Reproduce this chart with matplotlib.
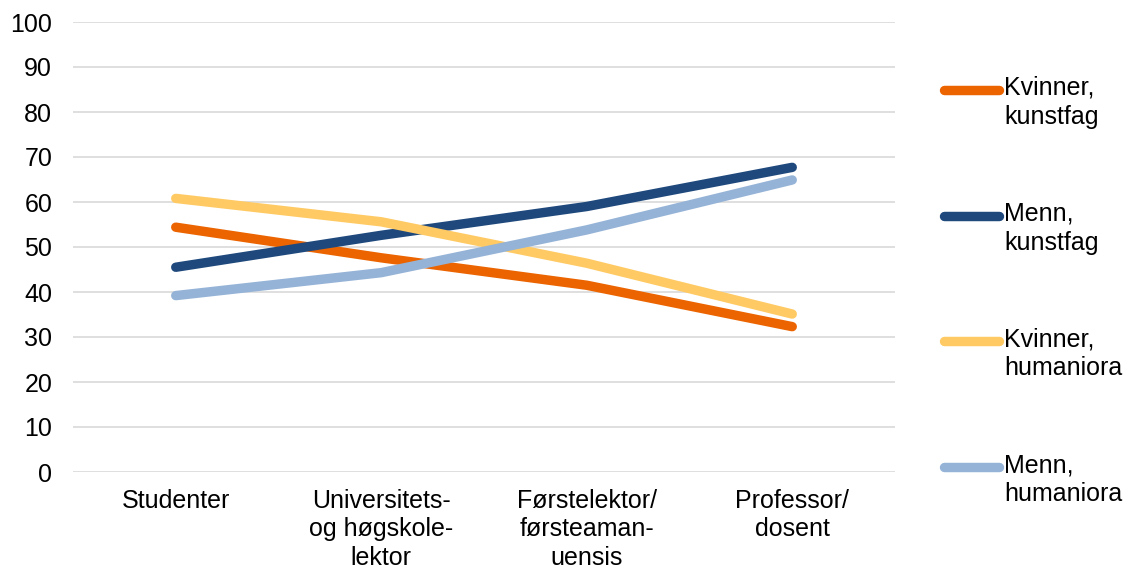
import matplotlib
matplotlib.use("Agg")
import matplotlib.pyplot as plt
from matplotlib.lines import Line2D

plt.rcParams['font.family'] = ['Liberation Sans', 'DejaVu Sans']

categories = ["Studenter", "Universitets-\nog høgskole-\nlektor", "Førstelektor/\nførsteaman-\nuensis", "Professor/\ndosent"]
series_names = ["Kvinner,\nkunstfag", "Menn,\nkunstfag", "Kvinner,\nhumaniora", "Menn,\nhumaniora"]
kvinner_kunstfag = [54.4, 47.6, 41.5, 32.3]
menn_kunstfag = [45.5, 52.6, 59.0, 67.7]
kvinner_humaniora = [60.8, 55.6, 46.4, 35.1]
menn_humaniora = [39.2, 44.3, 53.8, 64.9]
colors = ["#EB6400", "#1F497D", "#FFCA64", "#95B3D7"]
yticks = [0, 10, 20, 30, 40, 50, 60, 70, 80, 90, 100]

data = [kvinner_kunstfag, menn_kunstfag, kvinner_humaniora, menn_humaniora]

W, H = 1127, 572
FS = 18
LS = 1.25
fig = plt.figure(figsize=(W / 100, H / 100), dpi=100)
ax = fig.add_axes([73 / W, 1 - 472 / H, (895 - 73) / W, (472 - 22) / H])

x = list(range(len(categories)))
for vals, c in zip(data, colors):
    ax.plot(x, vals, color=c, lw=6.8, solid_capstyle='round', solid_joinstyle='round', zorder=3)

ax.set_xlim(-0.5, len(categories) - 0.5)
ax.set_ylim(0, 100)
ax.set_yticks(yticks)
ax.set_xticks(x)
ax.set_xticklabels(categories, fontsize=FS, linespacing=LS)
ax.tick_params(axis='y', labelsize=FS, length=0, pad=15)
ax.tick_params(axis='x', length=0, pad=12)
ax.grid(axis='y', color='#D9D9D9', lw=1.2, zorder=0)
for s in ax.spines.values():
    s.set_visible(False)

# legend
leg_y = [90, 216, 341, 467]
for name, c, yy in zip(series_names, colors, leg_y):
    fy = 1 - yy / H
    fig.add_artist(Line2D([944 / W, 999 / W], [fy, fy], color=c, lw=6.8,
                          solid_capstyle='round', transform=fig.transFigure))
    fig.text(1004 / W, fy + 14 / H, name, fontsize=FS, va='top', ha='left', linespacing=LS)

fig.savefig("out.png", dpi=100, facecolor='white')
